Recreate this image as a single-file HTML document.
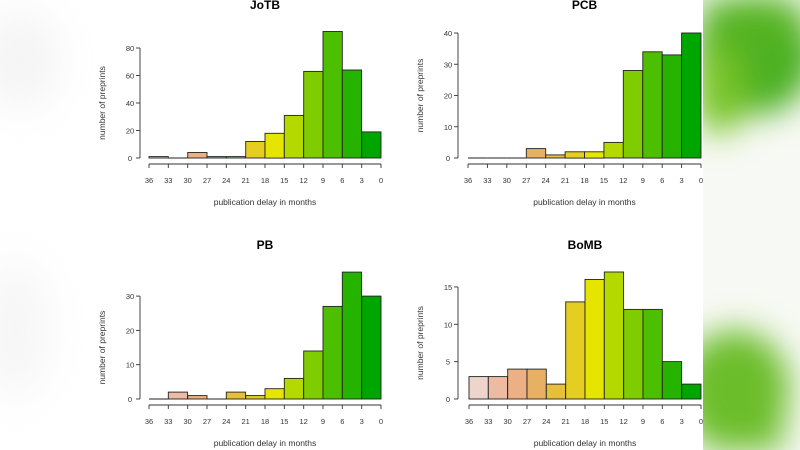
<!DOCTYPE html>
<html><head><meta charset="utf-8"><style>
html,body{margin:0;padding:0;background:#fff;width:800px;height:450px;overflow:hidden}
svg{display:block;font-family:"Liberation Sans",Arial,sans-serif}
</style></head><body>
<svg id="s" width="800" height="450" viewBox="0 0 800 450" xmlns="http://www.w3.org/2000/svg">
<defs>
<filter id="bl" x="-50%" y="-50%" width="200%" height="200%"><feGaussianBlur stdDeviation="16"/></filter>
<filter id="bl2" x="-50%" y="-50%" width="200%" height="200%"><feGaussianBlur stdDeviation="20"/></filter>
<clipPath id="cp"><rect x="703" y="0" width="97" height="450"/></clipPath>
</defs>
<rect x="0" y="0" width="800" height="450" fill="#fff"/>
<g filter="url(#bl2)" opacity="0.3">
<ellipse cx="20" cy="60" rx="40" ry="50" fill="#ddd"/>
<ellipse cx="15" cy="330" rx="35" ry="70" fill="#e2e2e2"/>
</g>
<g clip-path="url(#cp)">
<rect x="703" y="0" width="97" height="450" fill="#f7f9f4"/>
<g filter="url(#bl)">
<ellipse cx="755" cy="55" rx="60" ry="60" fill="#4cb020"/>
<rect x="703" y="0" width="97" height="40" fill="#56b424"/>
<ellipse cx="720" cy="90" rx="25" ry="45" fill="#78c428"/>
<ellipse cx="735" cy="390" rx="55" ry="60" fill="#6cbd2a"/>
<rect x="703" y="400" width="80" height="50" fill="#6cbd2a"/>
</g>
</g>
<g id="charts"></g>
</svg>
<script>
var cols=["#eed5cc","#ecbba4","#ebb084","#e8b062","#e6c03a","#e5cd22","#e5e500","#b4d900","#7fcc00","#4cc000","#26b300","#00a600"];
var P=[
{t:"JoTB",x0:149,x1:381,ax:140,b:158,u:1.375,ticks:[0,20,40,60,80],v:[1,0,4,1,1,12,18,31,63,92,64,19],ty:9,xa:164},
{t:"PCB",x0:468,x1:701,ax:458,b:158,u:3.125,ticks:[0,10,20,30,40],v:[0,0,0,3,1,2,2,5,28,34,33,40],ty:9,xa:164},
{t:"PB",x0:149,x1:381,ax:140,b:399,u:3.43,ticks:[0,10,20,30],v:[0,2,1,0,2,1,3,6,14,27,37,30],ty:249,xa:405},
{t:"BoMB",x0:469,x1:701,ax:458,b:399,u:7.47,ticks:[0,5,10,15],v:[3,3,4,4,2,13,16,17,12,12,5,2],ty:249,xa:405}];
var h="";
P.forEach(function(p){
 var w=(p.x1-p.x0)/12,mx=(p.x0+p.x1)/2;
 h+='<text x="'+mx+'" y="'+p.ty+'" font-size="12" font-weight="bold" text-anchor="middle">'+p.t+'</text>';
 p.v.forEach(function(v,i){
  var x=p.x0+i*w;
  if(v>0)h+='<rect x="'+x.toFixed(1)+'" y="'+(p.b-v*p.u).toFixed(1)+'" width="'+w.toFixed(1)+'" height="'+(v*p.u).toFixed(1)+'" fill="'+cols[i]+'" stroke="#222" stroke-width="0.9"/>';
  else h+='<line x1="'+x.toFixed(1)+'" y1="'+p.b+'" x2="'+(x+w).toFixed(1)+'" y2="'+p.b+'" stroke="#222" stroke-width="0.9"/>';
 });
 var tmax=p.ticks[p.ticks.length-1];
 h+='<line x1="'+p.ax+'" y1="'+p.b+'" x2="'+p.ax+'" y2="'+(p.b-tmax*p.u)+'" stroke="#333" stroke-width="0.9"/>';
 p.ticks.forEach(function(t){var y=p.b-t*p.u;
  h+='<line x1="'+(p.ax-4)+'" y1="'+y+'" x2="'+p.ax+'" y2="'+y+'" stroke="#333" stroke-width="0.9"/>';
  h+='<text x="'+(p.ax-10)+'" y="'+(y+3)+'" font-size="7.5" fill="#333" text-anchor="middle">'+t+'</text>';});
 h+='<text transform="translate('+(p.ax-35)+','+(p.b-tmax*p.u/2)+') rotate(-90)" font-size="8.5" fill="#333" text-anchor="middle">number of preprints</text>';
 h+='<line x1="'+p.x0+'" y1="'+p.xa+'" x2="'+p.x1+'" y2="'+p.xa+'" stroke="#333" stroke-width="0.9"/>';
 for(var i=0;i<=12;i++){var x=p.x0+i*w;
  h+='<line x1="'+x.toFixed(1)+'" y1="'+p.xa+'" x2="'+x.toFixed(1)+'" y2="'+(p.xa+4)+'" stroke="#333" stroke-width="0.9"/>';
  h+='<text x="'+x.toFixed(1)+'" y="'+(p.xa+19)+'" font-size="7.5" fill="#333" text-anchor="middle">'+(36-3*i)+'</text>';}
 h+='<text x="'+mx+'" y="'+(p.xa+41)+'" font-size="8.5" fill="#333" text-anchor="middle">publication delay in months</text>';
});
document.getElementById("charts").innerHTML=h;
</script>
</body></html>
